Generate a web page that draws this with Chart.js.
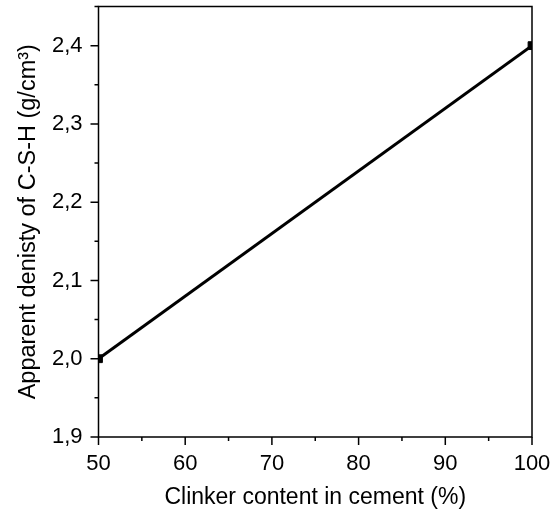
<!DOCTYPE html>
<html>
<head>
<meta charset="utf-8">
<script src="https://cdn.jsdelivr.net/npm/chart.js@4/dist/chart.umd.min.js"></script>
<style>
html,body{margin:0;padding:0;background:#fff;}
#wrap{width:558px;height:518px;}
</style>
</head>
<body>
<div id="wrap"><canvas id="c" width="558" height="518"></canvas></div>
<script>
const clinker = [50, 100];
const density = [2.0, 2.4];
const xMajor = [50, 60, 70, 80, 90, 100];
const xMinor = [55, 65, 75, 85, 95];
const yMajor = [1.9, 2.0, 2.1, 2.2, 2.3, 2.4];
const yMinor = [1.95, 2.05, 2.15, 2.25, 2.35, 2.45];
const xTitle = 'Clinker content in cement (%)';
const yTitle = 'Apparent denisty of C-S-H (g/cm\u00B3)';

const FONT = "'Liberation Sans', Arial, sans-serif";

const frame = {
  id: 'frame',
  afterDraw(chart) {
    const ctx = chart.ctx, a = chart.chartArea;
    const xs = chart.scales.x, ys = chart.scales.y;
    ctx.save();
    ctx.strokeStyle = '#000';
    ctx.lineWidth = 1.5;
    ctx.beginPath();
    ctx.rect(a.left, a.top, a.right - a.left, a.bottom - a.top);
    ctx.stroke();
    ctx.beginPath();
    const tick = (vals, len, horiz) => {
      vals.forEach(v => {
        if (horiz) {
          const p = xs.getPixelForValue(v);
          ctx.moveTo(p, a.bottom); ctx.lineTo(p, a.bottom + len);
        } else {
          const p = ys.getPixelForValue(v);
          ctx.moveTo(a.left, p); ctx.lineTo(a.left - len, p);
        }
      });
    };
    tick(xMajor, 8, true); tick(xMinor, 4, true);
    tick(yMajor, 8, false); tick(yMinor, 4, false);
    ctx.stroke();
    ctx.restore();
  }
};

new Chart(document.getElementById('c'), {
  type: 'line',
  data: {
    datasets: [{
      data: clinker.map((x, i) => ({x: x, y: density[i]})),
      borderColor: '#000',
      backgroundColor: '#000',
      borderWidth: 3,
      pointStyle: 'rect',
      pointRadius: 5.5,
      pointBorderWidth: 1,
      pointBorderColor: '#000',
      pointBackgroundColor: '#000',
      tension: 0,
      clip: 0
    }]
  },
  options: {
    responsive: false,
    animation: false,
    devicePixelRatio: 1,
    layout: {padding: {top: 4, right: 26, left: 0, bottom: 0}},
    plugins: {legend: {display: false}, tooltip: {enabled: false}},
    scales: {
      x: {
        type: 'linear', min: 50, max: 100,
        afterBuildTicks: s => { s.ticks = xMajor.map(v => ({value: v})); },
        afterFit: s => { s.height = 81; s.paddingLeft = 0; s.paddingRight = 0; },
        grid: {display: false, drawTicks: false},
        border: {display: false},
        ticks: {color: '#000', font: {family: FONT, size: 22}, padding: 14, maxRotation: 0, callback: v => String(v)},
        title: {display: true, text: xTitle, color: '#000', font: {family: FONT, size: 23}, padding: {top: 0, bottom: 7}}
      },
      y: {
        type: 'linear', min: 1.9, max: 2.45,
        afterBuildTicks: s => { s.ticks = yMajor.map(v => ({value: v})); },
        afterFit: s => { s.width = 98.5; s.paddingTop = 0; s.paddingBottom = 0; },
        grid: {display: false, drawTicks: false},
        border: {display: false},
        ticks: {color: '#000', font: {family: FONT, size: 22}, padding: 16, callback: v => v.toFixed(1).replace('.', ',')},
        title: {display: true, text: yTitle, color: '#000', font: {family: FONT, size: 23.5}, padding: {top: 14, bottom: 0}}
      }
    }
  },
  plugins: [frame]
});
</script>
</body>
</html>
